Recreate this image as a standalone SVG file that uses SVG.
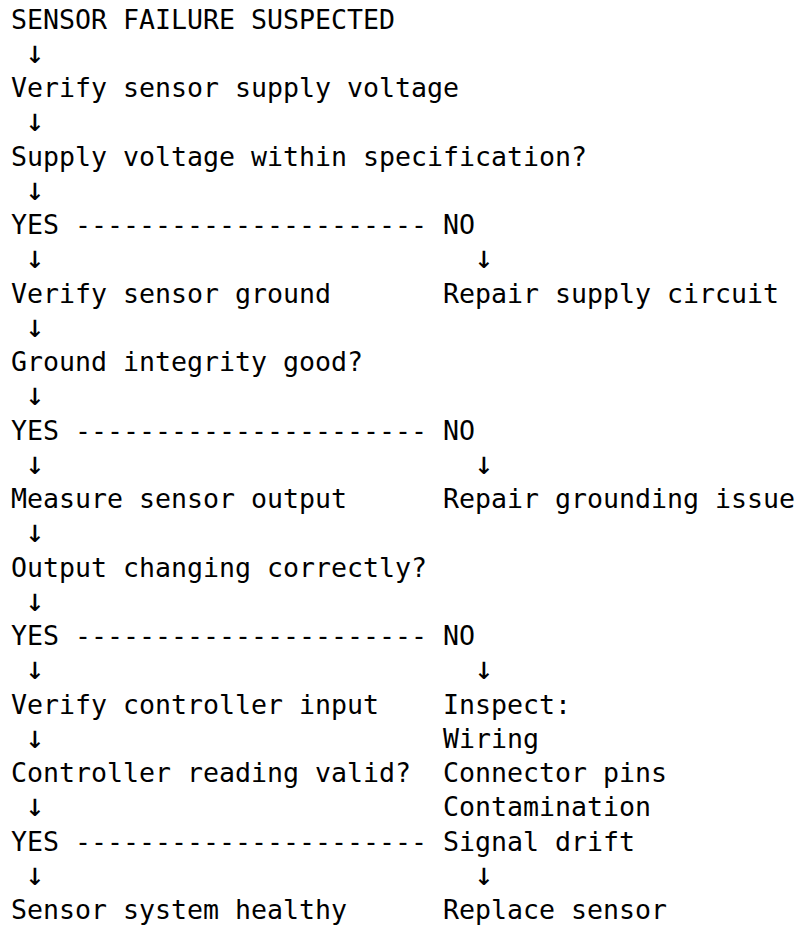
<svg xmlns="http://www.w3.org/2000/svg" width="801" height="928" viewBox="0 0 801 928">
  <style>
    text { font-family: "DejaVu Sans Mono", "Liberation Mono", monospace; font-size: 26.58px; fill: #000; white-space: pre; }
    .arrow { font-size: 32px; text-anchor: middle; }
  </style>
  <rect width="801" height="928" fill="#fff"/>
  <!-- monospace grid: column c at x = 11 + 16c, row n baseline at 28.5 + 34.25(n-1) -->
  <g id="start"><text x="11" y="28.5">SENSOR FAILURE SUSPECTED</text></g>
  <g id="check-supply"><text x="11" y="97">Verify sensor supply voltage</text></g>
  <g id="supply-ok"><text x="11" y="165.5">Supply voltage within specification?</text></g>
  <g id="supply-yes"><text x="11" y="234">YES</text></g>
  <g id="supply-no"><text x="443" y="234">NO</text></g>
  <g id="check-ground"><text x="11" y="302.5">Verify sensor ground</text></g>
  <g id="repair-supply"><text x="443" y="302.5">Repair supply circuit</text></g>
  <g id="ground-ok"><text x="11" y="371">Ground integrity good?</text></g>
  <g id="ground-yes"><text x="11" y="439.5">YES</text></g>
  <g id="ground-no"><text x="443" y="439.5">NO</text></g>
  <g id="measure-output"><text x="11" y="508">Measure sensor output</text></g>
  <g id="repair-ground"><text x="443" y="508">Repair grounding issue</text></g>
  <g id="output-ok"><text x="11" y="576.5">Output changing correctly?</text></g>
  <g id="output-yes"><text x="11" y="645">YES</text></g>
  <g id="output-no"><text x="443" y="645">NO</text></g>
  <g id="check-controller"><text x="11" y="713.5">Verify controller input</text></g>
  <g id="inspect">
    <text x="443" y="713.5">Inspect:</text>
    <text x="443" y="747.75">Wiring</text>
    <text x="443" y="782">Connector pins</text>
    <text x="443" y="816.25">Contamination</text>
    <text x="443" y="850.5">Signal drift</text>
  </g>
  <g id="controller-ok"><text x="11" y="782">Controller reading valid?</text></g>
  <g id="controller-yes"><text x="11" y="850.5">YES</text></g>
  <g id="healthy"><text x="11" y="919">Sensor system healthy</text></g>
  <g id="replace-sensor"><text x="443" y="919">Replace sensor</text></g>
  <g id="connectors">
    <text class="arrow" x="35" y="62.75">↓</text>
    <text class="arrow" x="35" y="131.25">↓</text>
    <text class="arrow" x="35" y="199.75">↓</text>
    <text x="75" y="234">----------------------</text>
    <text class="arrow" x="35" y="268.25">↓</text>
    <text class="arrow" x="484" y="268.25">↓</text>
    <text class="arrow" x="35" y="336.75">↓</text>
    <text class="arrow" x="35" y="405.25">↓</text>
    <text x="75" y="439.5">----------------------</text>
    <text class="arrow" x="35" y="473.75">↓</text>
    <text class="arrow" x="484" y="473.75">↓</text>
    <text class="arrow" x="35" y="542.25">↓</text>
    <text class="arrow" x="35" y="610.75">↓</text>
    <text x="75" y="645">----------------------</text>
    <text class="arrow" x="35" y="679.25">↓</text>
    <text class="arrow" x="484" y="679.25">↓</text>
    <text class="arrow" x="35" y="747.75">↓</text>
    <text class="arrow" x="35" y="816.25">↓</text>
    <text x="75" y="850.5">----------------------</text>
    <text class="arrow" x="35" y="884.75">↓</text>
    <text class="arrow" x="484" y="884.75">↓</text>
  </g>
</svg>
